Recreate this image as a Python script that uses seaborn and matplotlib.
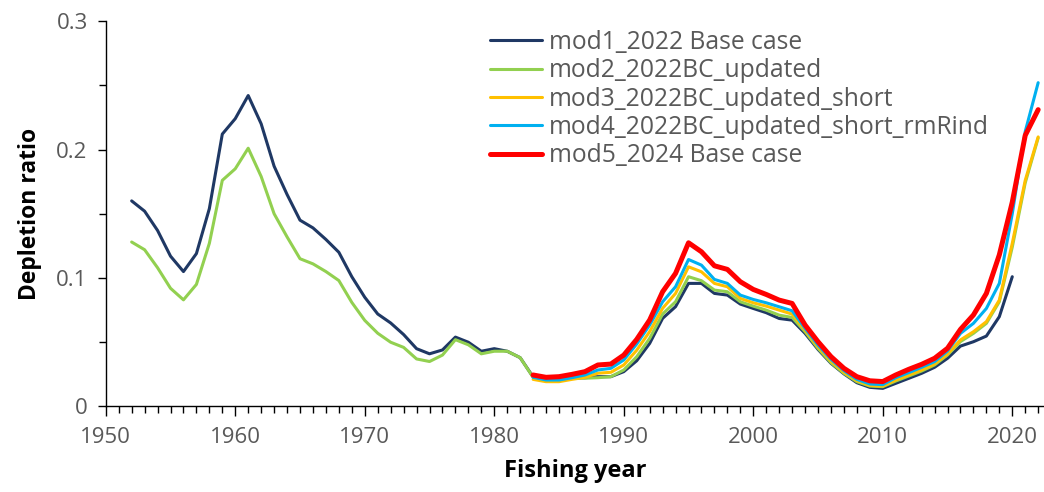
import numpy as np
import matplotlib
matplotlib.use("Agg")
import matplotlib.pyplot as plt
from matplotlib.ticker import MultipleLocator, FuncFormatter
import seaborn as sns

# Depletion ratio by fishing year for five model runs
years_mod1 = np.arange(1952, 2021)
mod1 = [0.160, 0.152, 0.137, 0.117, 0.105, 0.119, 0.154, 0.212, 0.224, 0.242,
        0.220, 0.187, 0.165, 0.145, 0.139, 0.130, 0.120, 0.101, 0.085, 0.072,
        0.065, 0.056, 0.045, 0.041, 0.044, 0.054, 0.050, 0.043, 0.045, 0.043,
        0.038, 0.023, 0.0201, 0.0201, 0.022, 0.0224, 0.0232, 0.0232, 0.0271, 0.0356,
        0.0491, 0.0686, 0.0777, 0.0958, 0.0958, 0.088, 0.0867, 0.0797, 0.0763, 0.073,
        0.0685, 0.0672, 0.0569, 0.0444, 0.0336, 0.0254, 0.0185, 0.0149, 0.0141, 0.018,
        0.0219, 0.0258, 0.0305, 0.0375, 0.047, 0.0504, 0.0548, 0.0699, 0.101]

years_mod2 = np.arange(1952, 2023)
mod2 = [0.128, 0.122, 0.108, 0.092, 0.083, 0.095, 0.127, 0.176, 0.185, 0.201,
        0.179, 0.150, 0.132, 0.115, 0.111, 0.105, 0.098, 0.081, 0.067, 0.057,
        0.050, 0.046, 0.037, 0.035, 0.040, 0.052, 0.048, 0.041, 0.043, 0.043,
        0.038, 0.0227, 0.0211, 0.0211, 0.0227, 0.022, 0.0224, 0.0232, 0.0284, 0.0387,
        0.053, 0.072, 0.0815, 0.101, 0.0979, 0.0906, 0.0893, 0.0815, 0.0781, 0.075,
        0.0711, 0.0693, 0.0582, 0.0452, 0.0341, 0.0258, 0.0193, 0.0159, 0.0154, 0.0198,
        0.0237, 0.0276, 0.0323, 0.0401, 0.0505, 0.0569, 0.0647, 0.0815, 0.124, 0.174,
        0.209]

years_short = np.arange(1983, 2023)
mod3 = [0.0211, 0.0193, 0.0193, 0.0211, 0.0227, 0.0259, 0.0266, 0.0323, 0.0438, 0.0583,
        0.0764, 0.088, 0.1087, 0.1048, 0.0958, 0.0932, 0.0841, 0.0807, 0.0781, 0.075,
        0.0719, 0.0595, 0.0465, 0.0354, 0.0266, 0.0201, 0.0164, 0.0159, 0.0206, 0.0245,
        0.0284, 0.0331, 0.0409, 0.0518, 0.0582, 0.066, 0.0828, 0.127, 0.176, 0.2098]
mod4 = [0.0227, 0.0206, 0.0206, 0.0224, 0.0245, 0.0284, 0.0297, 0.0362, 0.0486, 0.0634,
        0.0815, 0.0932, 0.1144, 0.110, 0.0989, 0.0958, 0.0867, 0.0833, 0.0807, 0.0776,
        0.0745, 0.0608, 0.0478, 0.0367, 0.0279, 0.0211, 0.0175, 0.017, 0.0224, 0.0263,
        0.0305, 0.0349, 0.0432, 0.0569, 0.0647, 0.0763, 0.0958, 0.150, 0.214, 0.252]
mod5 = [0.0245, 0.0227, 0.0232, 0.025, 0.0271, 0.0323, 0.033, 0.040, 0.0522, 0.0673,
        0.0893, 0.1036, 0.1274, 0.1204, 0.1095, 0.1067, 0.0971, 0.0911, 0.0872, 0.0828,
        0.0802, 0.0634, 0.0504, 0.0388, 0.0297, 0.0232, 0.020, 0.0194, 0.0245, 0.0289,
        0.0328, 0.0375, 0.0453, 0.060, 0.0712, 0.088, 0.118, 0.159, 0.211, 0.231]

labels = ["mod1_2022 Base case", "mod2_2022BC_updated", "mod3_2022BC_updated_short",
          "mod4_2022BC_updated_short_rmRind", "mod5_2024 Base case"]
colors = ["#1F3864", "#92D050", "#FFC000", "#00B0F0", "#FF0000"]
widths = [2.2, 2.2, 2.2, 2.2, 3.6]

sns.set_style("ticks")
plt.rcParams["font.family"] = ["Open Sans", "DejaVu Sans"]

fig = plt.figure(figsize=(10.44, 4.92), dpi=100)
ax = fig.add_axes([0.1013, 0.1738, 0.8987, 0.7835])

series = [(years_mod1, mod1), (years_mod2, mod2), (years_short, mod3),
          (years_short, mod4), (years_short, mod5)]
for (yrs, vals), lab, col, lw in zip(series, labels, colors, widths):
    sns.lineplot(x=yrs, y=vals, ax=ax, color=col, linewidth=lw, label=lab)

ax.set_xlim(1950, 2022.45)
ax.set_ylim(0, 0.3)
ax.xaxis.set_major_locator(MultipleLocator(10))
ax.xaxis.set_minor_locator(MultipleLocator(1))
ax.yaxis.set_major_locator(MultipleLocator(0.1))
ax.yaxis.set_minor_locator(MultipleLocator(0.05))
ax.yaxis.set_major_formatter(FuncFormatter(lambda v, p: "0" if abs(v) < 1e-9 else f"{v:.1f}"))

for side in ["top", "right"]:
    ax.spines[side].set_visible(False)
for side in ["left", "bottom"]:
    ax.spines[side].set_color("black")
    ax.spines[side].set_linewidth(1.0)

ax.tick_params(axis="both", which="major", direction="out", color="black",
               labelcolor="#595959", labelsize=16, width=1.0)
ax.tick_params(axis="x", which="major", length=7, pad=8)
ax.tick_params(axis="x", which="minor", length=5, width=1.0, color="black")
ax.tick_params(axis="y", which="major", length=6, pad=7)
ax.tick_params(axis="y", which="minor", length=5, width=1.0, color="black")

ax.set_xlabel("Fishing year", fontsize=17, fontweight="bold", color="black", labelpad=8)
ax.set_ylabel("Depletion ratio", fontsize=16.5, fontweight="bold", color="black", labelpad=10)

ax.legend(loc="upper left", bbox_to_anchor=(0.460, 0.959), bbox_transform=fig.transFigure,
          frameon=False, fontsize=17.7, labelcolor="#595959", handlelength=2.1,
          handletextpad=0.3, labelspacing=0.135, borderaxespad=0.0)

fig.savefig("out.png", dpi=100)
